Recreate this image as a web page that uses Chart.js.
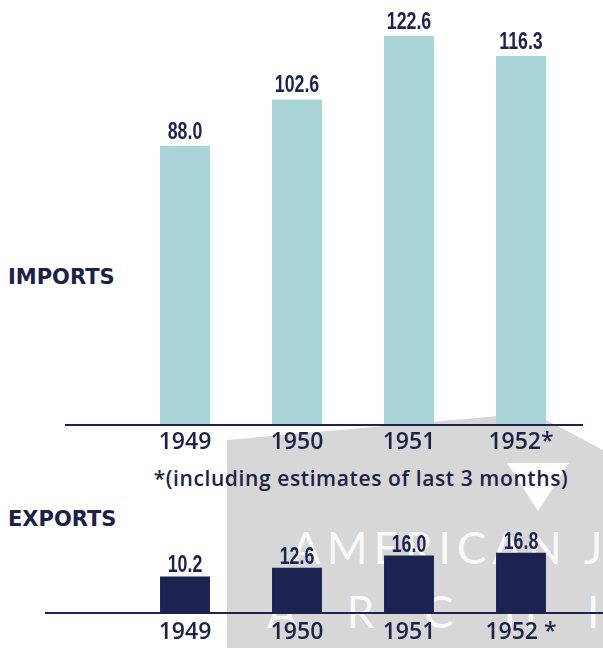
<!DOCTYPE html>
<html lang="en">
<head>
    <meta charset="UTF-8">
    <title>Imports and Exports 1949-1952</title>
    <style>
        body {
            margin: 0;
            padding: 0;
            width: 603px;
            height: 648px;
            overflow: hidden;
            background: #ffffff;
            position: relative;
            font-family: 'Open Sans', sans-serif;
            color: #1c2148;
        }
        .mark {
            position: absolute;
            left: 227px;
            top: 405px;
            width: 376px;
            height: 243px;
            background: #d7d7d7;
            clip-path: polygon(0 35px, 306px 8px, 376px 45px, 376px 243px, 0 243px);
            overflow: hidden;
        }
        .mark .star {
            position: absolute;
            left: 280px;
            top: 58px;
            width: 62px;
            height: 48px;
            background: #ffffff;
            clip-path: polygon(0 0, 100% 0, 50% 100%);
        }
        .mark .word {
            position: absolute;
            color: #ffffff;
            font-family: 'Lato', sans-serif;
            font-weight: 400;
            font-size: 44px;
            white-space: nowrap;
            opacity: 0.85;
        }
        .box {
            position: absolute;
            left: 0;
            width: 603px;
        }
        #importBox { top: 0; height: 470px; }
        #exportBox { top: 500px; height: 155px; }
        .side {
            position: absolute;
            left: 8px;
            font-family: 'DejaVu Sans', sans-serif;
            font-weight: bold;
            font-size: 21px;
            line-height: 24px;
        }
        .note {
            position: absolute;
            left: 0;
            width: 722px;
            top: 466px;
            text-align: center;
            font-weight: 600;
            font-size: 21px;
            letter-spacing: 0.6px;
            line-height: 24px;
        }
    </style>
</head>
<body>

    <div class="mark">
        <div class="star"></div>
        <div class="word" style="left: 64px; top: 116px; letter-spacing: 6px;">AMERICAN JEWISH</div>
        <div class="word" style="left: 40px; top: 180px; letter-spacing: 50px;">ARCHIVES</div>
    </div>

    <div class="side" style="top: 265px;">IMPORTS</div>
    <div class="note">*(including estimates of last 3 months)</div>
    <div class="side" style="top: 507px;">EXPORTS</div>

    <div class="box" id="importBox"><canvas id="importChart"></canvas></div>
    <div class="box" id="exportBox"><canvas id="exportChart"></canvas></div>

    <script src="https://cdn.jsdelivr.net/npm/chart.js"></script>
    <script>
        // values in millions
        const importYears = ["1949", "1950", "1951", "1952*"];
        const importValues = [88.0, 102.6, 122.6, 116.3];
        const exportYears = ["1949", "1950", "1951", "1952 *"];
        const exportValues = [10.2, 12.6, 16.0, 16.8];

        const navy = "#1c2350";
        const teal = "#a9d4d8";

        // horizontal rule at zero, longer than the plot area
        const baseLine = {
            id: "baseLine",
            afterDatasetsDraw(chart, args, opts) {
                let ctx = chart.ctx;
                let y = chart.scales.y.getPixelForValue(0);
                ctx.save();
                ctx.strokeStyle = navy;
                ctx.lineWidth = 2;
                ctx.beginPath();
                ctx.moveTo(opts.from, y);
                ctx.lineTo(opts.to, y);
                ctx.stroke();
                ctx.restore();
            }
        };

        // number printed over each bar, squeezed to a condensed look
        const barValues = {
            id: "barValues",
            afterDatasetsDraw(chart, args, opts) {
                let ctx = chart.ctx;
                let meta = chart.getDatasetMeta(0);
                let data = chart.data.datasets[0].data;
                ctx.save();
                ctx.fillStyle = navy;
                ctx.font = "bold 24px 'Liberation Sans', sans-serif";
                ctx.textAlign = "center";
                ctx.textBaseline = "alphabetic";
                meta.data.forEach(function (bar, i) {
                    ctx.save();
                    ctx.translate(bar.x, bar.y - opts.gap);
                    ctx.scale(0.74, 1);
                    ctx.fillText(data[i].toFixed(1), 0, 0);
                    ctx.restore();
                });
                ctx.restore();
            }
        };

        function makeChart(id, years, values, color, yMax, pad, tickPad, line, gap) {
            return new Chart(document.getElementById(id), {
                type: "bar",
                data: {
                    labels: years,
                    datasets: [{
                        data: values,
                        backgroundColor: color,
                        borderWidth: 0,
                        categoryPercentage: 1,
                        barPercentage: 0.446
                    }]
                },
                options: {
                    responsive: true,
                    maintainAspectRatio: false,
                    animation: false,
                    layout: { padding: pad },
                    plugins: {
                        legend: { display: false },
                        tooltip: { enabled: false },
                        baseLine: line,
                        barValues: { gap: gap }
                    },
                    scales: {
                        x: {
                            grid: { display: false, drawTicks: false },
                            border: { display: false },
                            ticks: {
                                color: "#1c2148",
                                padding: tickPad,
                                font: { family: "'Open Sans', sans-serif", size: 23, weight: "600", lineHeight: 1.2 }
                            }
                        },
                        y: {
                            display: false,
                            min: 0,
                            max: yMax
                        }
                    }
                },
                plugins: [baseLine, barValues]
            });
        }

        makeChart("importChart", importYears, importValues, teal, 130,
            { left: 129, right: 26, top: 12.5, bottom: 9.4 }, 4, { from: 65, to: 583 }, 7);

        makeChart("exportChart", exportYears, exportValues, navy, 20,
            { left: 129, right: 26, top: 41.2, bottom: 2.4 }, 6, { from: 45, to: 603 }, 4);
    </script>

</body>
</html>
